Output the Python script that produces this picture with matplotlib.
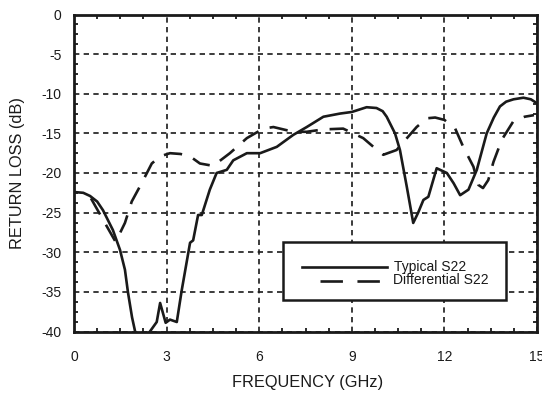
import matplotlib
matplotlib.use("Agg")
import matplotlib.pyplot as plt
import numpy as np
from matplotlib.patches import Rectangle
from matplotlib.lines import Line2D

plt.rcParams['font.family'] = ['Liberation Sans', 'DejaVu Sans']

# Typical S22 (solid)
typ_freq = [0, 0.3, 0.52, 0.75, 0.94, 1.26, 1.49, 1.65, 1.75, 1.88, 1.98, 2.2, 2.46,
            2.68, 2.79, 2.97, 3.11, 3.33, 3.49, 3.76, 3.86, 4.02, 4.14, 4.4,
            4.62, 4.95, 5.16, 5.6, 6.03, 6.57, 7.1, 7.54, 8.08, 8.62, 9.0,
            9.48, 9.8, 10.0, 10.13, 10.4, 10.56, 10.78, 10.99, 11.15, 11.32, 11.48,
            11.75, 12.08, 12.3, 12.51, 12.78, 13.05, 13.37, 13.6, 13.8, 14.0, 14.24,
            14.56, 14.8, 15.0]
typ_s22 = [-22.4, -22.5, -22.9, -23.6, -24.7, -27.2, -29.7, -32.2, -35.1, -38.2, -40.0,
           -42.0, -40.0, -38.8, -36.4, -38.9, -38.5, -38.8, -34.8, -28.8, -28.5,
           -25.3, -25.3, -22.1, -20.0, -19.6, -18.4, -17.5, -17.5, -16.7, -15.2,
           -14.2, -12.9, -12.5, -12.3, -11.7, -11.8, -12.2, -12.9, -15.0, -17.1, -21.7,
           -26.3, -25.0, -23.4, -23.0, -19.4, -20.0, -21.3, -22.8, -22.1, -19.6, -15.0,
           -13.0, -11.6, -11.0, -10.7, -10.5, -10.7, -11.2]

# Differential S22 (dashed)
diff_freq = [0.55, 1.0, 1.35, 1.65, 1.87, 2.19, 2.52, 2.79, 3.11, 3.45, 3.76, 4.08,
             4.51, 5.05, 5.6, 6.13, 6.46, 6.89, 7.21, 7.54, 8.08, 8.72, 9.37, 9.7,
             10.02, 10.45, 11.1, 11.43, 11.7, 12.0, 12.35, 12.61, 12.94, 13.1,
             13.25, 13.42, 13.59, 13.86, 14.23, 14.6, 14.9]
diff_s22 = [-23.2, -26.3, -28.7, -26.3, -23.6, -21.3, -18.8, -17.9, -17.5, -17.6,
            -17.9, -18.8, -19.1, -17.5, -15.6, -14.4, -14.2, -14.6, -14.8, -14.8,
            -14.5, -14.4, -15.6, -16.7, -17.7, -17.1, -14.2, -13.1, -13.0, -13.3,
            -14.4, -16.7, -19.2, -21.5, -21.9, -20.9, -18.6, -15.8, -13.5, -12.9,
            -12.7]

x_ticks = [0, 3, 6, 9, 12, 15]
y_ticks = [0, -5, -10, -15, -20, -25, -30, -35, -40]

W, H = 542, 393
INK = '#1a1a1a'
fig = plt.figure(figsize=(W / 100, H / 100), dpi=100)
ax = fig.add_axes([74 / W, 1 - 331.5 / H, (537 - 74) / W, (331.5 - 14.5) / H])

lw = 1.9
ax.plot(typ_freq, typ_s22, color=INK, lw=lw, solid_joinstyle='round',
        solid_capstyle='round')
ax.plot(diff_freq, diff_s22, color=INK, lw=lw, linestyle=(0, (7, 4.5)),
        dash_joinstyle='round')

ax.set_xlim(0, 15)
ax.set_ylim(-40, 0)
ax.set_xticks(x_ticks)
ax.set_yticks(y_ticks)
ax.set_xticklabels([str(t) for t in x_ticks])
ax.set_yticklabels([str(t) for t in y_ticks])
ax.set_xticks(np.arange(0, 15.01, 0.75), minor=True)
ax.set_yticks(np.arange(-40, 0.01, 1.25), minor=True)

ax.grid(True, which='major', color=INK, lw=1.2, linestyle=(0, (3.2, 2.6)))
ax.tick_params(which='both', direction='in', top=True, right=True, color=INK)
ax.tick_params(which='major', length=0, labelsize=10, labelcolor=INK)
ax.tick_params(axis='x', which='major', pad=13)
ax.tick_params(axis='y', which='major', pad=9)
ax.tick_params(which='minor', length=3, width=1.3)
for s in ax.spines.values():
    s.set_linewidth(2.0)
    s.set_color(INK)

fig.text(308 / W, 1 - 382 / H, 'FREQUENCY (GHz)', ha='center', va='center',
         fontsize=11.8, color=INK)
fig.text(18 / W, 1 - 173 / H, 'RETURN LOSS (dB)', ha='center', va='center',
         rotation=90, fontsize=11.8, color=INK)

tr = fig.transFigure
def fx(px): return px / W
def fy(py): return 1 - py / H
fig.patches.append(Rectangle((fx(283), fy(300)), fx(506) - fx(283), fy(242) - fy(300),
                             transform=tr, facecolor='white', edgecolor=INK,
                             lw=1.8, zorder=5))
fig.lines.append(Line2D([fx(302), fx(387)], [fy(266.5), fy(266.5)], transform=tr,
                        color=INK, lw=lw, zorder=6))
fig.lines.append(Line2D([fx(320), fx(380)], [fy(280.5), fy(280.5)], transform=tr,
                        color=INK, lw=lw, linestyle=(0, (8.5, 5.5)), zorder=6))
fig.text(fx(394), fy(266.5), 'Typical S22', ha='left', va='center', fontsize=10,
         color=INK, zorder=7)
fig.text(fx(393), fy(280.5), 'Differential S22', ha='left', va='center', fontsize=10,
         color=INK, zorder=7)

fig.savefig('out.png', dpi=100)
